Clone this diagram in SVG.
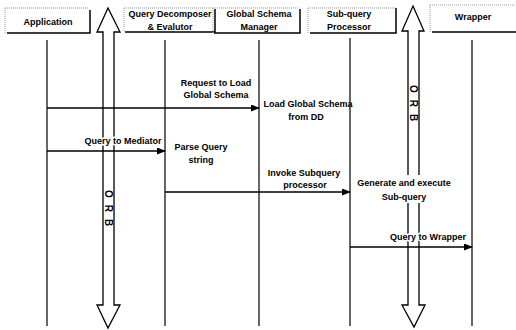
<svg xmlns="http://www.w3.org/2000/svg" width="516" height="330" viewBox="0 0 516 330">
<style>
text{font-family:"Liberation Sans",Arial,sans-serif;font-size:9px;font-weight:bold;fill:#000;text-anchor:middle}
.halo{stroke:#fff;stroke-width:3;paint-order:stroke;stroke-linejoin:round}
.dot{stroke:#999;stroke-width:1;stroke-dasharray:1,1;fill:none}
.edge{stroke:#000;stroke-width:1.5;fill:none}
.life{stroke:#000;stroke-width:1.2;fill:none}
.orb{stroke:#000;stroke-width:1.3;fill:#fff;stroke-linejoin:miter}
.msg{stroke:#000;stroke-width:1.3;fill:none;marker-end:url(#ah)}
.orbt{font-size:10px;letter-spacing:7px;text-anchor:start}
</style>
<defs>
<marker id="ah" markerWidth="9" markerHeight="7" refX="8" refY="3.5" orient="auto" markerUnits="userSpaceOnUse">
<path d="M0,0 L9,3.5 L0,7 Z" fill="#000"/>
</marker>
</defs>
<rect width="516" height="330" fill="#fff"/>

<g id="orb-left">
<polygon class="orb" points="108,8 120,32 114,32 114,305 120,305 108,328 97,305 103,305 103,32 97,32"/>
<text class="orbt" transform="translate(105,190) rotate(90)">ORB</text>
</g>
<g id="orb-right">
<path class="orb" d="M408,175 L408,31 L402,31 L413,6 L424,31 L419,31 L419,175"/>
<path class="orb" d="M408,203 L408,305 L402,305 L414,327 L425,305 L419,305 L419,203"/>
<text class="orbt" transform="translate(410,85) rotate(90)">ORB</text>
</g>

<g id="application">
<path class="dot" d="M5,8 V33 M5,8 H88"/>
<path class="edge" d="M7,33 H90 V10"/>
<text x="48" y="25">Application</text>
<line class="life" x1="47" y1="40" x2="47" y2="326"/>
</g>
<g id="query-decomposer">
<path class="dot" d="M124,8 V32 M124,8 H213"/>
<path class="edge" d="M125,32 H215 V9"/>
<text x="170" y="16.5">Query Decomposer</text>
<text x="170" y="29.5">&amp; Evalutor</text>
<line class="life" x1="165" y1="40" x2="165" y2="326"/>
</g>
<g id="global-schema-manager">
<path class="dot" d="M213,8 V33 M213,8 H298"/>
<path class="edge" d="M214,33 H300 V9"/>
<text x="259" y="16.5">Global Schema</text>
<text x="259" y="29.5">Manager</text>
<line class="life" x1="259" y1="40" x2="259" y2="326"/>
</g>
<g id="subquery-processor">
<path class="dot" d="M308,8 V33 M308,8 H395"/>
<path class="edge" d="M310,33 H396 V8"/>
<text x="349" y="17">Sub-query</text>
<text x="349" y="30">Processor</text>
<line class="life" x1="350" y1="38" x2="350" y2="326"/>
</g>
<g id="wrapper">
<path class="dot" d="M430,5 V32 M430,5 H516"/>
<path class="edge" d="M432,32 H516"/>
<text x="473" y="20">Wrapper</text>
<line class="life" x1="472" y1="40" x2="472" y2="326"/>
</g>

<g id="notes">
<text x="308" y="107">Load Global Schema</text>
<text x="306" y="120">from DD</text>
<text x="201" y="150">Parse Query</text>
<text x="201" y="163">string</text>
<text x="404" y="186">Generate and execute</text>
<text x="404" y="200">Sub-query</text>
</g>

<g id="connectors">
<line class="msg" x1="47" y1="108" x2="259" y2="108"/>
<text x="216" y="86">Request to Load</text>
<text x="216" y="98">Global Schema</text>
<line class="msg" x1="47" y1="151" x2="165" y2="151"/>
<text class="halo" x="123" y="144">Query to Mediator</text>
<line class="msg" x1="165" y1="192" x2="350" y2="192"/>
<text x="304" y="176">Invoke Subquery</text>
<text x="305" y="188">processor</text>
<line class="msg" x1="350" y1="247" x2="472" y2="247"/>
<text class="halo" x="428" y="240">Query to Wrapper</text>
</g>
</svg>
